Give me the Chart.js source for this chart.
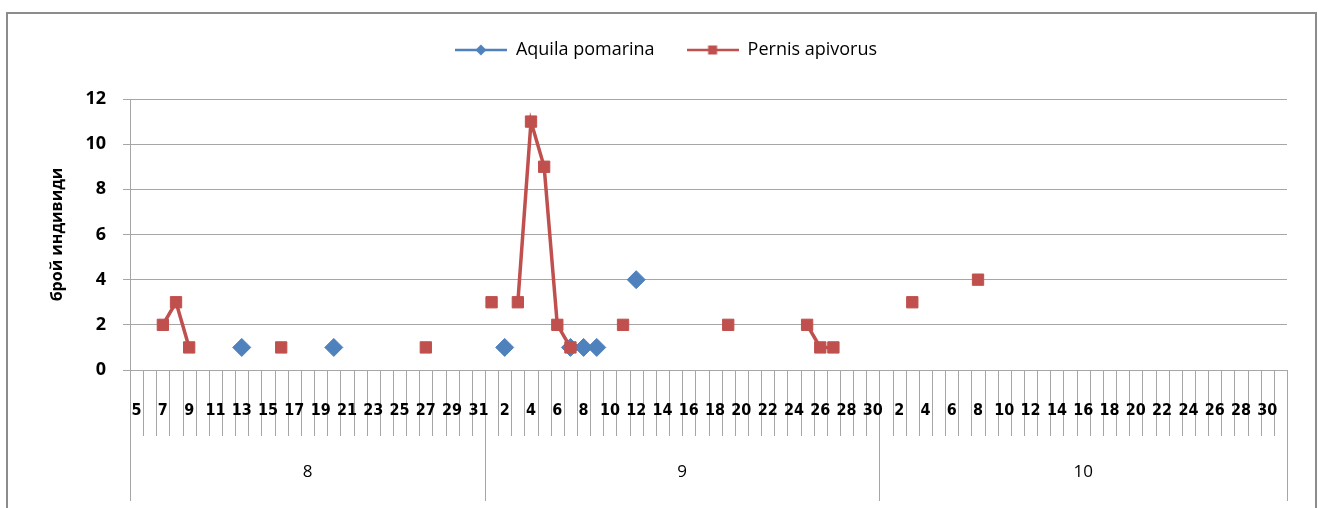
<!DOCTYPE html>
<html>
<head>
<meta charset="utf-8">
<script src="https://cdn.jsdelivr.net/npm/chart.js@4/dist/chart.umd.min.js"></script>
<style>
  body { margin: 0; background: #fff; }
  canvas { display: block; }
</style>
</head>
<body>
<canvas id="chart" width="1318" height="508"></canvas>
<script>
// days shown on the category axis, one list per month
var augDays = [5,6,7,8,9,10,11,12,13,14,15,16,17,18,19,20,21,22,23,24,25,26,27,28,29,30,31];
var sepDays = [1,2,3,4,5,6,7,8,9,10,11,12,13,14,15,16,17,18,19,20,21,22,23,24,25,26,27,28,29,30];
var octDays = [1,2,3,4,5,6,7,8,9,10,11,12,13,14,15,16,17,18,19,20,21,22,23,24,25,26,27,28,29,30,31];
var monthNames = ['8', '9', '10'];

// counts per day (null = no record)
var aquilaAug = [null,null,null,null,null,null,null,null,1,null,null,null,null,null,null,1,null,null,null,null,null,null,null,null,null,null,null];
var aquilaSep = [null,1,null,null,null,null,1,1,1,null,null,4,null,null,null,null,null,null,null,null,null,null,null,null,null,null,null,null,null,null];
var aquilaOct = [null,null,null,null,null,null,null,null,null,null,null,null,null,null,null,null,null,null,null,null,null,null,null,null,null,null,null,null,null,null,null];

var pernisAug = [null,null,2,3,1,null,null,null,null,null,null,1,null,null,null,null,null,null,null,null,null,null,1,null,null,null,null];
var pernisSep = [3,null,3,11,9,2,1,null,null,null,2,null,null,null,null,null,null,null,2,null,null,null,null,null,2,1,1,null,null,null];
var pernisOct = [null,null,3,null,null,null,null,4,null,null,null,null,null,null,null,null,null,null,null,null,null,null,null,null,null,null,null,null,null,null,null];

var yTicks = [0, 2, 4, 6, 8, 10, 12];

var BLUE = '#4F81BD';
var RED = '#C0504D';
var GRID = '#a6a6a6';

var monthDays = [augDays, sepDays, octDays];
var labels = augDays.concat(sepDays, octDays);
var aquila = aquilaAug.concat(aquilaSep, aquilaOct);
var pernis = pernisAug.concat(pernisSep, pernisOct);

// little line+marker icons for the legend, like excel does
function legendIcon(color, shape) {
  var c = document.createElement('canvas');
  c.width = 52; c.height = 14;
  var g = c.getContext('2d');
  g.strokeStyle = color;
  g.lineWidth = 2.5;
  g.beginPath(); g.moveTo(0, 7); g.lineTo(52, 7); g.stroke();
  g.fillStyle = color;
  if (shape === 'diamond') {
    g.beginPath();
    g.moveTo(26, 1.5); g.lineTo(31.5, 7); g.lineTo(26, 12.5); g.lineTo(20.5, 7);
    g.closePath(); g.fill();
  } else {
    g.fillRect(21.5, 2.5, 9, 9);
  }
  return c;
}
var legendIcons = [legendIcon(BLUE, 'diamond'), legendIcon(RED, 'square')];

// gap between legend and plot
var legendSpacer = {
  id: 'legendSpacer',
  beforeInit: function(chart) {
    Chart.layouts.addBox(chart, {
      position: 'top',
      weight: 500,
      fullSize: true,
      options: {},
      isHorizontal: function() { return true; },
      update: function(maxWidth) { this.width = maxWidth; this.height = 30; },
      draw: function() {}
    });
  }
};

var frame = {
  id: 'frame',
  beforeDraw: function(chart) {
    var ctx = chart.ctx;
    ctx.save();
    ctx.fillStyle = '#fff';
    ctx.fillRect(0, 0, chart.width, chart.height);
    ctx.strokeStyle = '#8c8c8c';
    ctx.lineWidth = 2;
    ctx.strokeRect(7, 13, 1309, 520);
    ctx.restore();
  }
};

// two level category axis: days on top, months below
var monthAxis = {
  id: 'monthAxis',
  afterDraw: function(chart) {
    var ctx = chart.ctx;
    var xs = chart.scales.x;
    var area = chart.chartArea;
    var n = labels.length;
    var step = (xs.right - xs.left) / n;
    var bottom = area.bottom;
    var starts = [0];
    monthDays.forEach(function(d, k) { starts.push(starts[k] + d.length); });

    ctx.save();
    ctx.strokeStyle = GRID;
    ctx.lineWidth = 1;
    for (var i = 0; i <= n; i++) {
      var x = (i < n ? xs.getPixelForValue(i) - step / 2 : xs.getPixelForValue(n - 1) + step / 2);
      x = Math.round(x) + 0.5;
      var len = starts.indexOf(i) >= 0 ? 131 : 66;
      ctx.beginPath();
      ctx.moveTo(x, bottom);
      ctx.lineTo(x, bottom + len);
      ctx.stroke();
    }

    ctx.fillStyle = '#000';
    ctx.textAlign = 'center';
    ctx.textBaseline = 'middle';
    ctx.font = 'bold 16px "Liberation Sans Narrow", "DejaVu Sans Condensed", sans-serif';
    for (var j = 0; j < n; j += 2) {
      ctx.fillText(String(labels[j]), xs.getPixelForValue(j), bottom + 41);
    }

    ctx.font = '17px "Open Sans", sans-serif';
    for (var m = 0; m < monthNames.length; m++) {
      var cx = (xs.getPixelForValue(starts[m]) + xs.getPixelForValue(starts[m + 1] - 1)) / 2;
      ctx.fillText(monthNames[m], cx, bottom + 102);
    }
    ctx.restore();
  }
};

new Chart(document.getElementById('chart'), {
  type: 'line',
  data: {
    labels: labels,
    datasets: [{
      label: 'Aquila pomarina',
      data: aquila,
      borderColor: BLUE,
      backgroundColor: BLUE,
      borderWidth: 2.5,
      pointStyle: 'rectRot',
      pointRadius: 9,
      pointHoverRadius: 9,
      pointBorderWidth: 1,
      spanGaps: false,
      order: 1
    }, {
      label: 'Pernis apivorus',
      data: pernis,
      borderColor: RED,
      backgroundColor: RED,
      borderWidth: 3.5,
      pointStyle: 'rect',
      pointRadius: 8,
      pointHoverRadius: 8,
      pointBorderWidth: 1,
      spanGaps: false,
      order: 0
    }]
  },
  options: {
    responsive: false,
    animation: false,
    layout: { padding: { left: 45, right: 31, top: 9, bottom: 0 } },
    scales: {
      x: {
        type: 'category',
        offset: true,
        grid: { display: false },
        border: { display: false },
        ticks: { display: false },
        afterFit: function(scale) { scale.height = 138; }
      },
      y: {
        min: 0,
        max: 12,
        afterBuildTicks: function(scale) {
          scale.ticks = yTicks.map(function(v) { return { value: v }; });
        },
        grid: { color: GRID, lineWidth: 1, tickLength: 7 },
        border: { color: GRID },
        ticks: {
          color: '#000',
          padding: 17,
          font: { family: 'Open Sans', size: 18, weight: 'bold' }
        },
        title: {
          display: true,
          text: 'брой индивиди',
          color: '#000',
          padding: { top: 3, bottom: 0 },
          font: { family: 'Open Sans', size: 16, weight: 'bold' }
        },
        afterFit: function(scale) { scale.width = 85; }
      }
    },
    plugins: {
      legend: {
        position: 'top',
        labels: {
          usePointStyle: true,
          pointStyleWidth: 52,
          padding: 32,
          color: '#000',
          font: { family: 'Open Sans', size: 18 },
          sort: function(a, b) { return a.datasetIndex - b.datasetIndex; },
          generateLabels: function(chart) {
            var items = Chart.defaults.plugins.legend.labels.generateLabels(chart);
            items.forEach(function(it) { it.pointStyle = legendIcons[it.datasetIndex]; });
            return items;
          }
        }
      },
      tooltip: { enabled: false }
    }
  },
  plugins: [frame, legendSpacer, monthAxis]
});
</script>
</body>
</html>
